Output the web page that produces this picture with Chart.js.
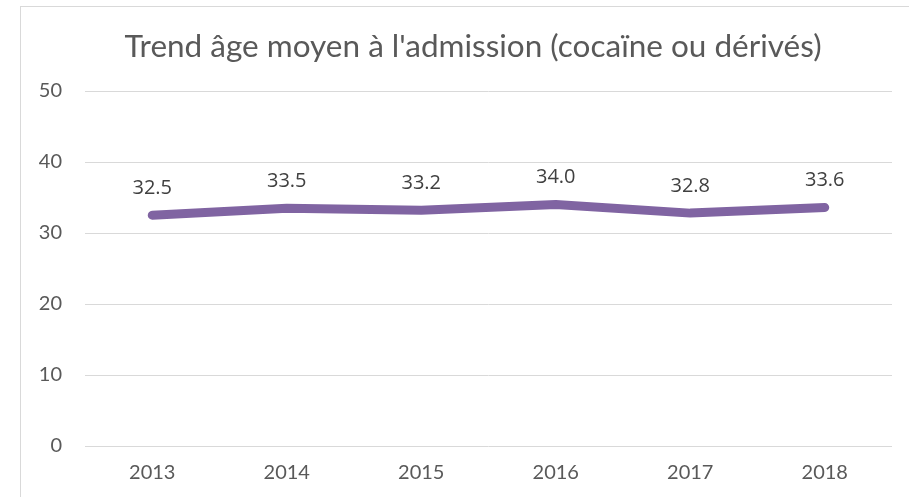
<!DOCTYPE html>
<html><head><meta charset="utf-8">
<script src="https://cdn.jsdelivr.net/npm/chart.js@4/dist/chart.umd.min.js"></script>
<style>
html,body{margin:0;padding:0;background:#fff;overflow:hidden;}
#frame{position:absolute;left:20px;top:6px;width:1000px;height:600px;border:1px solid #d9d9d9;box-sizing:border-box;}
#wrap{position:absolute;left:0;top:0;width:909px;height:497px;}
</style></head>
<body>
<div id="frame"></div>
<div id="wrap"><canvas id="c"></canvas></div>
<script>
const categories = ['2013','2014','2015','2016','2017','2018'];
const ageMoyen = [32.5, 33.5, 33.2, 34.0, 32.8, 33.6];
const titleText = "Trend âge moyen à l'admission (cocaïne ou dérivés)";

const labelPlugin = {
  id: 'valueLabels',
  afterDraw(chart) {
    const ctx = chart.ctx;
    ctx.save();
    ctx.font = '31.5px Lato';
    ctx.fillStyle = '#595959';
    ctx.textAlign = 'center';
    ctx.textBaseline = 'middle';
    ctx.fillText(titleText, 473, 47);
    ctx.restore();
  },
  afterDatasetsDraw(chart) {
    const ctx = chart.ctx;
    const meta = chart.getDatasetMeta(0);
    ctx.save();
    ctx.font = '20px "Open Sans"';
    ctx.fillStyle = '#404040';
    ctx.textAlign = 'center';
    ctx.textBaseline = 'middle';
    meta.data.forEach((pt, i) => {
      ctx.fillText(ageMoyen[i].toFixed(1), pt.x, pt.y - 27);
    });
    ctx.restore();
  }
};

new Chart(document.getElementById('c'), {
  type: 'line',
  data: {
    labels: categories,
    datasets: [{
      data: ageMoyen,
      borderColor: '#8064A2',
      borderWidth: 9,
      borderCapStyle: 'round',
      borderJoinStyle: 'round',
      pointRadius: 0,
      tension: 0,
      fill: false
    }]
  },
  options: {
    responsive: true,
    maintainAspectRatio: false,
    animation: false,
    layout: { padding: { left: 0, right: 17, top: 91, bottom: 0 } },
    plugins: {
      legend: { display: false },
      tooltip: { enabled: false },
      title: { display: false }
    },
    scales: {
      x: {
        offset: true,
        grid: { display: false, drawTicks: false },
        border: { display: false },
        ticks: { color: '#595959', font: { family: 'Lato', size: 20 }, padding: 15 },
        afterFit(s) { s.height = 51; }
      },
      y: {
        min: 0, max: 50,
        ticks: { stepSize: 10, color: '#595959', font: { family: 'Lato', size: 20 }, padding: 23 },
        grid: { color: '#d9d9d9', lineWidth: 1, drawTicks: false },
        border: { display: false },
        afterFit(s) { s.width = 85; }
      }
    }
  },
  plugins: [labelPlugin]
});
</script>
</body></html>
